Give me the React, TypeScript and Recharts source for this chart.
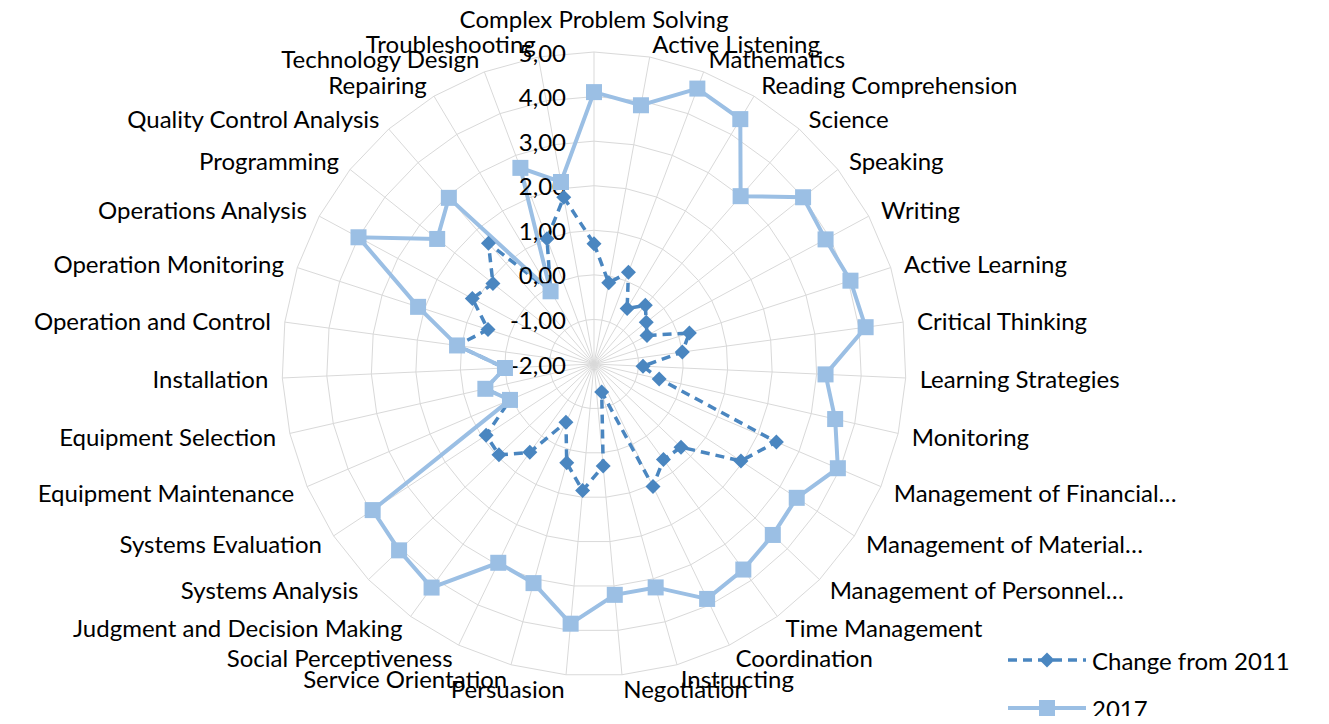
import { RadarChart, Radar, PolarGrid, PolarAngleAxis, PolarRadiusAxis, Legend } from 'recharts';

const skills = [
  'Complex Problem Solving',
  'Active Listening',
  'Mathematics',
  'Reading Comprehension',
  'Science',
  'Speaking',
  'Writing',
  'Active Learning',
  'Critical Thinking',
  'Learning Strategies',
  'Monitoring',
  'Management of Financial…',
  'Management of Material…',
  'Management of Personnel…',
  'Time Management',
  'Coordination',
  'Instructing',
  'Negotiation',
  'Persuasion',
  'Service Orientation',
  'Social Perceptiveness',
  'Judgment and Decision Making',
  'Systems Analysis',
  'Systems Evaluation',
  'Equipment Maintenance',
  'Equipment Selection',
  'Installation',
  'Operation and Control',
  'Operation Monitoring',
  'Operations Analysis',
  'Programming',
  'Quality Control Analysis',
  'Repairing',
  'Technology Design',
  'Troubleshooting',
];

const changeFrom2011 = [
  0.7, -0.15, 0.2, -0.55, -0.25, -0.5, -0.65, 0.25, 0.0, -0.9, -0.5, 2.45, 1.95, 0.7, 0.65, 1.05, -1.35, 0.3,
  0.85, 0.3, -0.55, 0.45, 0.95, 0.9, 0.05, 0.5, 0.0, 1.1, 0.5, 1.1, 0.9, 1.6, -0.1, 1.0, 1.8,
];

const values2017 = [
  4.1, 3.9, 4.6, 4.4, 3.0, 4.0, 3.9, 4.05, 4.15, 3.2, 3.55, 3.95, 3.45, 3.55, 3.7, 3.85, 3.2, 3.2, 3.85, 3.1,
  2.95, 4.2, 4.05, 3.95, 0.05, 0.5, 0.0, 1.1, 2.15, 4.0, 2.5, 2.95, -0.1, 2.7, 2.15,
];

const radiusTicks = [-2, -1, 0, 1, 2, 3, 4, 5];

const seriesNames = ['Change from 2011', '2017'];

const data = skills.map((name, i) => ({
  name,
  change: changeFrom2011[i],
  y2017: values2017[i],
}));

const FONT = 'Lato, "Noto Sans", sans-serif';
const FONT_SIZE = 24;
const CHANGE_COLOR = '#4a86c0';
const Y2017_COLOR = '#9bbfe4';
const GRID_COLOR = '#d9d9d9';

const fmt = (v: number) => v.toFixed(2).replace('.', ',');

// labels sit just outside the ring, the top one (centred) is lifted a bit more like Excel does
const AngleTick = (props: any) => {
  const { x, y, textAnchor, payload } = props;
  const extra = textAnchor === 'middle' ? 20 : 0;
  return (
    <text
      x={x}
      y={y - extra}
      textAnchor={textAnchor}
      dominantBaseline="central"
      fontSize={FONT_SIZE}
      fontFamily={FONT}
      fill="#000"
    >
      {payload.value}
    </text>
  );
};

const RadiusTick = (props: any) => {
  const { x, y, payload } = props;
  return (
    <text
      x={x - 28}
      y={y}
      textAnchor="end"
      dominantBaseline="central"
      fontSize={FONT_SIZE}
      fontFamily={FONT}
      fill="#000"
    >
      {fmt(payload.value)}
    </text>
  );
};

const Diamond = (props: any) => {
  const { cx, cy } = props;
  if (cx == null || cy == null) return null;
  return (
    <path
      d={`M${cx},${cy - 7.5}L${cx + 7.5},${cy}L${cx},${cy + 7.5}L${cx - 7.5},${cy}Z`}
      fill={CHANGE_COLOR}
    />
  );
};

const Square = (props: any) => {
  const { cx, cy } = props;
  if (cx == null || cy == null) return null;
  return <rect x={cx - 8} y={cy - 8} width={16} height={16} fill={Y2017_COLOR} />;
};

const LegendContent = () => (
  <svg width={320} height={84}>
    <line x1={2} y1={20} x2={80} y2={20} stroke={CHANGE_COLOR} strokeWidth={3.5} strokeDasharray="9 6" />
    <path d="M41,12.5L48.5,20L41,27.5L33.5,20Z" fill={CHANGE_COLOR} />
    <text x={86} y={20} dominantBaseline="central" fontSize={FONT_SIZE} fontFamily={FONT} fill="#000">
      {seriesNames[0]}
    </text>
    <line x1={2} y1={68} x2={80} y2={68} stroke={Y2017_COLOR} strokeWidth={4} />
    <rect x={33} y={60} width={16} height={16} fill={Y2017_COLOR} />
    <text x={86} y={68} dominantBaseline="central" fontSize={FONT_SIZE} fontFamily={FONT} fill="#000">
      {seriesNames[1]}
    </text>
  </svg>
);

const SkillsRadar = () => {
  return (
    <div style={{ margin: -8 }}>
      <RadarChart
        width={1329}
        height={724}
        data={data}
        cx={594}
        cy={364}
        outerRadius={312}
        margin={{ top: 0, right: 0, bottom: 0, left: 0 }}
      >
        <PolarGrid stroke={GRID_COLOR} strokeWidth={1} />
        <PolarAngleAxis dataKey="name" tick={AngleTick} tickLine={false} axisLine={false} tickSize={14} />
        <PolarRadiusAxis
          angle={90}
          domain={[-2, 5]}
          ticks={radiusTicks as any}
          tickCount={8}
          tick={RadiusTick}
          axisLine={false}
          tickLine={false}
        />
        <Radar
          name={seriesNames[0]}
          dataKey="change"
          stroke={CHANGE_COLOR}
          strokeWidth={3.5}
          strokeDasharray="9 6"
          fill="none"
          fillOpacity={0}
          dot={Diamond}
          isAnimationActive={false}
        />
        <Radar
          name={seriesNames[1]}
          dataKey="y2017"
          stroke={Y2017_COLOR}
          strokeWidth={4}
          fill="none"
          fillOpacity={0}
          dot={Square}
          isAnimationActive={false}
        />
        <Legend
          content={LegendContent}
          wrapperStyle={{ position: 'absolute', left: 1006, top: 640, bottom: 'auto', width: 320, height: 84 }}
        />
      </RadarChart>
    </div>
  );
};

export default function App() {
  return <SkillsRadar />;
}
